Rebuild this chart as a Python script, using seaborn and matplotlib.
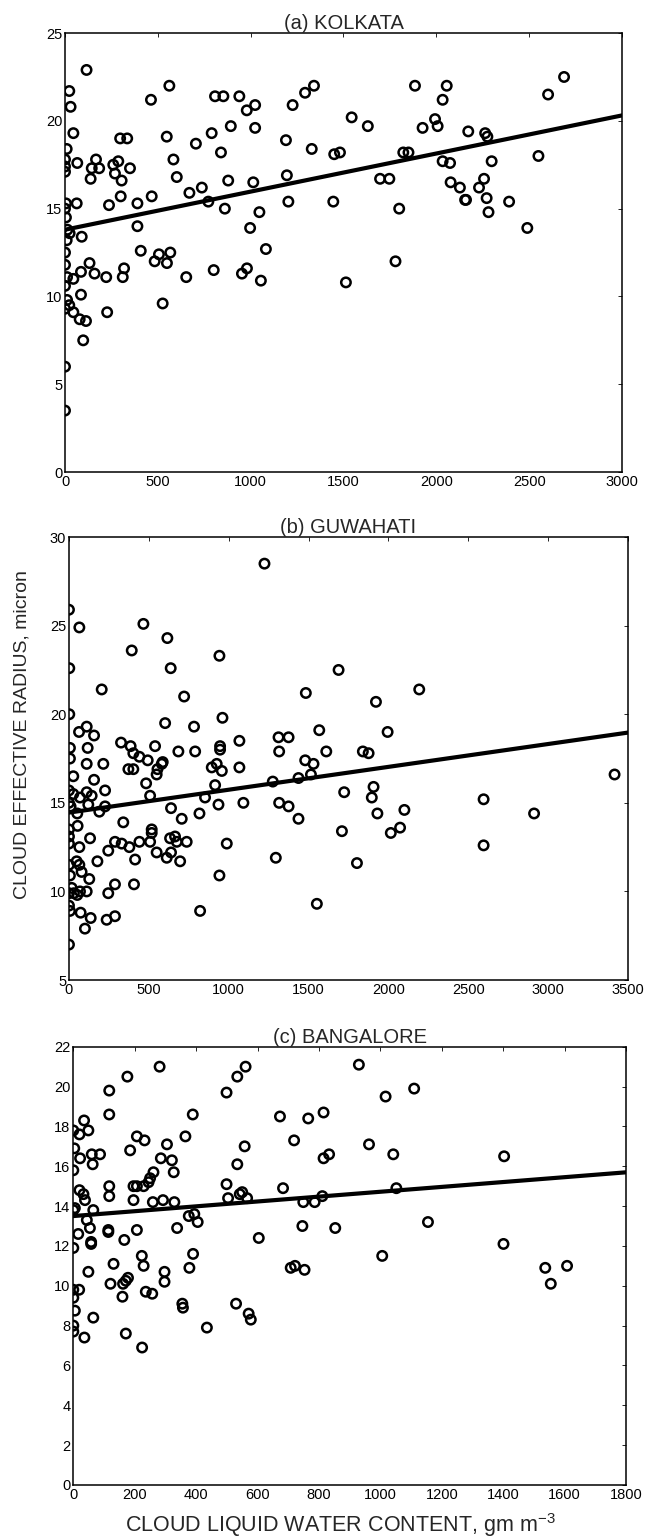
import numpy as np
import pandas as pd
import matplotlib
matplotlib.use("Agg")
import matplotlib.pyplot as plt
import seaborn as sns

# (a) KOLKATA
kol_x = [116, 23, 30, 45, 9, 0, 0, 0, 66, 138, 144, 167, 184, 260, 269, 287, 305, 350, 297, 335,
         300, 237, 63, 5, 0, 5, 13, 25, 9, 90, 390, 390, 467, 463, 562, 548, 584, 602, 670, 737,
         705, 772, 790, 808, 853, 840, 893, 879, 861, 939, 979, 1024, 1024, 1014, 1047, 997, 1190, 1195, 1203, 1226,
         1293, 1341, 1329, 1445, 1450, 1481, 1544,
         1631, 1697, 1747, 1800, 1822, 1850, 1885, 1926, 1993, 2007, 2034, 2056, 2034, 2074, 2077, 2127, 2155, 2160,
         2172, 2230, 2257, 2263, 2275, 2271, 2281, 2298, 2392, 2490, 2550, 2602, 2688,
         0, 0, 11, 45, 0, 132, 86, 159, 222, 318, 311, 408, 483, 506, 549, 567, 653, 801, 953, 980,
         1055, 1082, 1513, 1780, 86, 0, 11, 23, 45, 79, 113, 98, 227, 526, 0, 0]
kol_y = [22.9, 21.7, 20.8, 19.3, 18.4, 17.8, 17.4, 17.1, 17.6, 16.7, 17.3, 17.8, 17.3, 17.5, 17.0, 17.7, 16.6, 17.3, 19.0, 19.0,
         15.7, 15.2, 15.3, 15.3, 15.0, 14.5, 13.8, 13.6, 13.2, 13.4, 15.3, 14.0, 15.7, 21.2, 22.0, 19.1, 17.8, 16.8, 15.9, 16.2,
         18.7, 15.4, 19.3, 21.4, 21.4, 18.2, 19.7, 16.6, 15.0, 21.4, 20.6, 20.9, 19.6, 16.5, 14.8, 13.9, 18.9, 16.9, 15.4, 20.9,
         21.6, 22.0, 18.4, 15.4, 18.1, 18.2, 20.2,
         19.7, 16.7, 16.7, 15.0, 18.2, 18.2, 22.0, 19.6, 20.1, 19.7, 21.2, 22.0, 17.7, 17.6, 16.5, 16.2, 15.5, 15.5,
         19.4, 16.2, 16.7, 19.3, 19.1, 15.6, 14.8, 17.7, 15.4, 13.9, 18.0, 21.5, 22.5,
         12.5, 11.8, 11.1, 11.0, 10.6, 11.9, 11.4, 11.3, 11.1, 11.6, 11.1, 12.6, 12.0, 12.4, 11.9, 12.5, 11.1, 11.5, 11.3, 11.6,
         10.9, 12.7, 10.8, 12.0, 10.1, 9.3, 9.8, 9.5, 9.1, 8.7, 8.6, 7.5, 9.1, 9.6, 6.0, 3.5]

# (b) GUWAHATI
guw_x = [1224, 0, 65, 2, 2, 466, 616, 393, 637, 942, 205, 721, 1483, 1688, 63, 111, 157, 6, 117, 6,
         111, 215, 326, 386, 403, 441, 493, 539, 581, 602, 685, 783, 790, 946, 946, 961, 1067, 894, 925, 1067,
         1312, 1375, 1316, 1567, 1479, 1531, 1611,
         2193, 1922, 1995, 1840, 1876,
         27, 157, 0, 27, 69, 111, 142, 121, 226, 226, 190, 0, 10, 52, 54, 0, 0, 0, 65, 132,
         372, 403, 483, 549, 554, 587, 508, 639, 706, 817, 340, 288, 330, 378, 441, 246, 178, 414, 518, 518,
         508, 549, 612, 639, 633, 664, 675, 737, 696, 988, 942, 821, 1295, 1552, 1709, 1723, 957, 915, 852, 936,
         1092, 1276, 1316, 1375, 1437, 1437, 1515, 0, 48, 65, 6, 17, 0, 31, 52, 69, 111, 127, 79, 0,
         6, 73, 136, 100, 0, 246, 288, 236, 288, 407,
         1907, 1896, 1931, 2100, 2073, 2015, 1803, 2596, 2596, 2912, 3416]
guw_y = [28.5, 25.9, 24.9, 22.6, 20.0, 25.1, 24.3, 23.6, 22.6, 23.3, 21.4, 21.0, 21.2, 22.5, 19.0, 19.3, 18.8, 18.1, 18.1, 17.5,
         17.2, 17.2, 18.4, 18.2, 17.8, 17.6, 17.4, 18.2, 17.2, 19.5, 17.9, 19.3, 17.9, 18.2, 18.0, 19.8, 18.5, 17.0, 17.2, 17.0,
         18.7, 18.7, 17.9, 19.1, 17.4, 17.2, 17.9,
         21.4, 20.7, 19.0, 17.9, 17.8,
         16.5, 16.3, 15.7, 15.5, 15.3, 15.6, 15.4, 14.9, 15.7, 14.8, 14.5, 15.0, 14.8, 14.4, 13.7, 13.5, 13.1, 12.7, 12.5, 13.0,
         16.9, 16.9, 16.1, 16.6, 16.9, 17.3, 15.4, 14.7, 14.1, 14.4, 13.9, 12.8, 12.7, 12.5, 12.8, 12.3, 11.7, 11.8, 13.5, 13.3,
         12.8, 12.2, 11.9, 12.2, 13.0, 13.1, 12.8, 12.8, 11.7, 12.7, 10.9, 8.9, 11.9, 9.3, 13.4, 15.6, 16.8, 16.0, 15.3, 14.9,
         15.0, 16.2, 15.0, 14.8, 14.1, 16.4, 16.6, 11.5, 11.7, 11.5, 10.9, 10.2, 9.9, 9.9, 9.8, 10.0, 10.0, 10.7, 11.1, 9.2,
         8.9, 8.8, 8.5, 7.9, 7.0, 9.9, 10.4, 8.4, 8.6, 10.4,
         15.9, 15.3, 14.4, 14.6, 13.6, 13.3, 11.6, 15.2, 12.6, 14.4, 16.6]

# (c) BANGALORE
ban_x = [281, 176, 117, 117, 35, 0, 20, 49, 3, 22, 60, 87, 63, 0, 185, 207, 232, 117, 117, 20,
         33, 38, 196, 207, 229, 196, 245, 250, 261, 285, 305, 321, 327, 365, 389, 259, 292, 329, 0, 5,
         65, 44, 54, 16, 0, 58, 58, 114, 114, 166, 207, 338, 376, 394, 405, 499, 534, 561, 534, 558,
         499, 504, 542, 566, 550, 604, 673, 719, 765, 815, 815, 833, 683, 749, 786, 811, 746, 853, 223, 229,
         131, 49, 297, 378, 390,
         930, 1017, 1110, 963, 1042, 1403, 1052, 1155, 1006, 1401, 1537, 1608, 1555,
         297, 121, 162, 171, 178, 160, 236, 257, 0, 19, 0, 5, 65, 0, 0, 36, 171, 224, 355, 357,
         435, 530, 571, 578, 708, 722, 753]
ban_y = [21.0, 20.5, 19.8, 18.6, 18.3, 17.8, 17.6, 17.8, 16.9, 16.4, 16.6, 16.6, 16.1, 15.8, 16.8, 17.5, 17.3, 15.0, 14.5, 14.8,
         14.6, 14.3, 15.0, 15.0, 15.0, 14.3, 15.2, 15.4, 15.7, 16.4, 17.1, 16.3, 15.7, 17.5, 18.6, 14.2, 14.3, 14.2, 13.8, 13.9,
         13.8, 13.3, 12.9, 12.6, 11.9, 12.2, 12.1, 12.8, 12.7, 12.3, 12.8, 12.9, 13.5, 13.6, 13.2, 19.7, 20.5, 21.0, 16.1, 17.0,
         15.1, 14.4, 14.6, 14.4, 14.7, 12.4, 18.5, 17.3, 18.4, 18.7, 16.4, 16.6, 14.9, 14.2, 14.2, 14.5, 13.0, 12.9, 11.5, 11.0,
         11.1, 10.7, 10.7, 10.9, 11.6,
         21.1, 19.5, 19.9, 17.1, 16.6, 16.5, 14.9, 13.2, 11.5, 12.1, 10.9, 11.0, 10.1,
         10.2, 10.1, 10.1, 10.25, 10.4, 9.45, 9.7, 9.6, 9.8, 9.8, 9.4, 8.75, 8.4, 8.0, 7.7, 7.4, 7.6, 6.9, 9.1, 8.9,
         7.9, 9.1, 8.6, 8.3, 10.9, 11.0, 10.8]

# fitted lines (intercept, slope)
fit_icpt = [13.8, 14.45, 13.5]
fit_slope = [0.00217, 0.00129, 0.00122]

titles = ["(a) KOLKATA", "(b) GUWAHATI", "(c) BANGALORE"]
xmax = [3000, 3500, 1800]
xstep = [500, 500, 200]
yrange = [(0, 25, 5), (5, 30, 5), (0, 22, 2)]

sns.set_theme(style="white")
plt.rcParams['font.family'] = ['Liberation Sans', 'DejaVu Sans']
plt.rcParams['mathtext.fontset'] = 'custom'
plt.rcParams['mathtext.rm'] = 'Liberation Sans'

fig = plt.figure(figsize=(6.6, 15.38), dpi=100)
boxes = [[0.0985, 0.6931, 0.8439, 0.2854],
         [0.1045, 0.3628, 0.8470, 0.2880],
         [0.1111, 0.0345, 0.8374, 0.2849]]

data = [(kol_x, kol_y), (guw_x, guw_y), (ban_x, ban_y)]

for i in range(3):
    ax = fig.add_axes(boxes[i])
    df = pd.DataFrame({'lwc': data[i][0], 'reff': data[i][1]})
    sns.scatterplot(data=df, x='lwc', y='reff', ax=ax, marker='o', s=46,
                    facecolor='none', edgecolor='black', linewidth=1.8)
    line = pd.DataFrame({'lwc': [0, xmax[i]]})
    line['reff'] = fit_icpt[i] + fit_slope[i] * line['lwc']
    sns.lineplot(data=line, x='lwc', y='reff', ax=ax, color='black', linewidth=3.0)
    ax.set_xlim(0, xmax[i])
    ax.set_ylim(yrange[i][0], yrange[i][1])
    ax.set_xticks(np.arange(0, xmax[i] + 1, xstep[i]))
    ax.set_yticks(np.arange(yrange[i][0], yrange[i][1] + 0.1, yrange[i][2]))
    ax.set_xlabel('')
    ax.set_ylabel('')
    ax.set_title(titles[i], fontsize=14.5, pad=3)
    ax.tick_params(direction='in', length=3, width=0.6, top=True, right=True,
                   labelsize=10.5, pad=2, colors='black', labelcolor='black')
    for sp in ax.spines.values():
        sp.set_color('black')
        sp.set_linewidth(1.1)

fig.text(22 / 660, 1 - 735 / 1538, 'CLOUD EFFECTIVE RADIUS, micron', rotation=90,
         ha='center', va='center', fontsize=14)
fig.text(340 / 660, 1 - 1525 / 1538, 'CLOUD LIQUID WATER CONTENT, gm m$^{-3}$',
         ha='center', va='center', fontsize=15.5)

fig.savefig('out.png', dpi=100, facecolor='white')
